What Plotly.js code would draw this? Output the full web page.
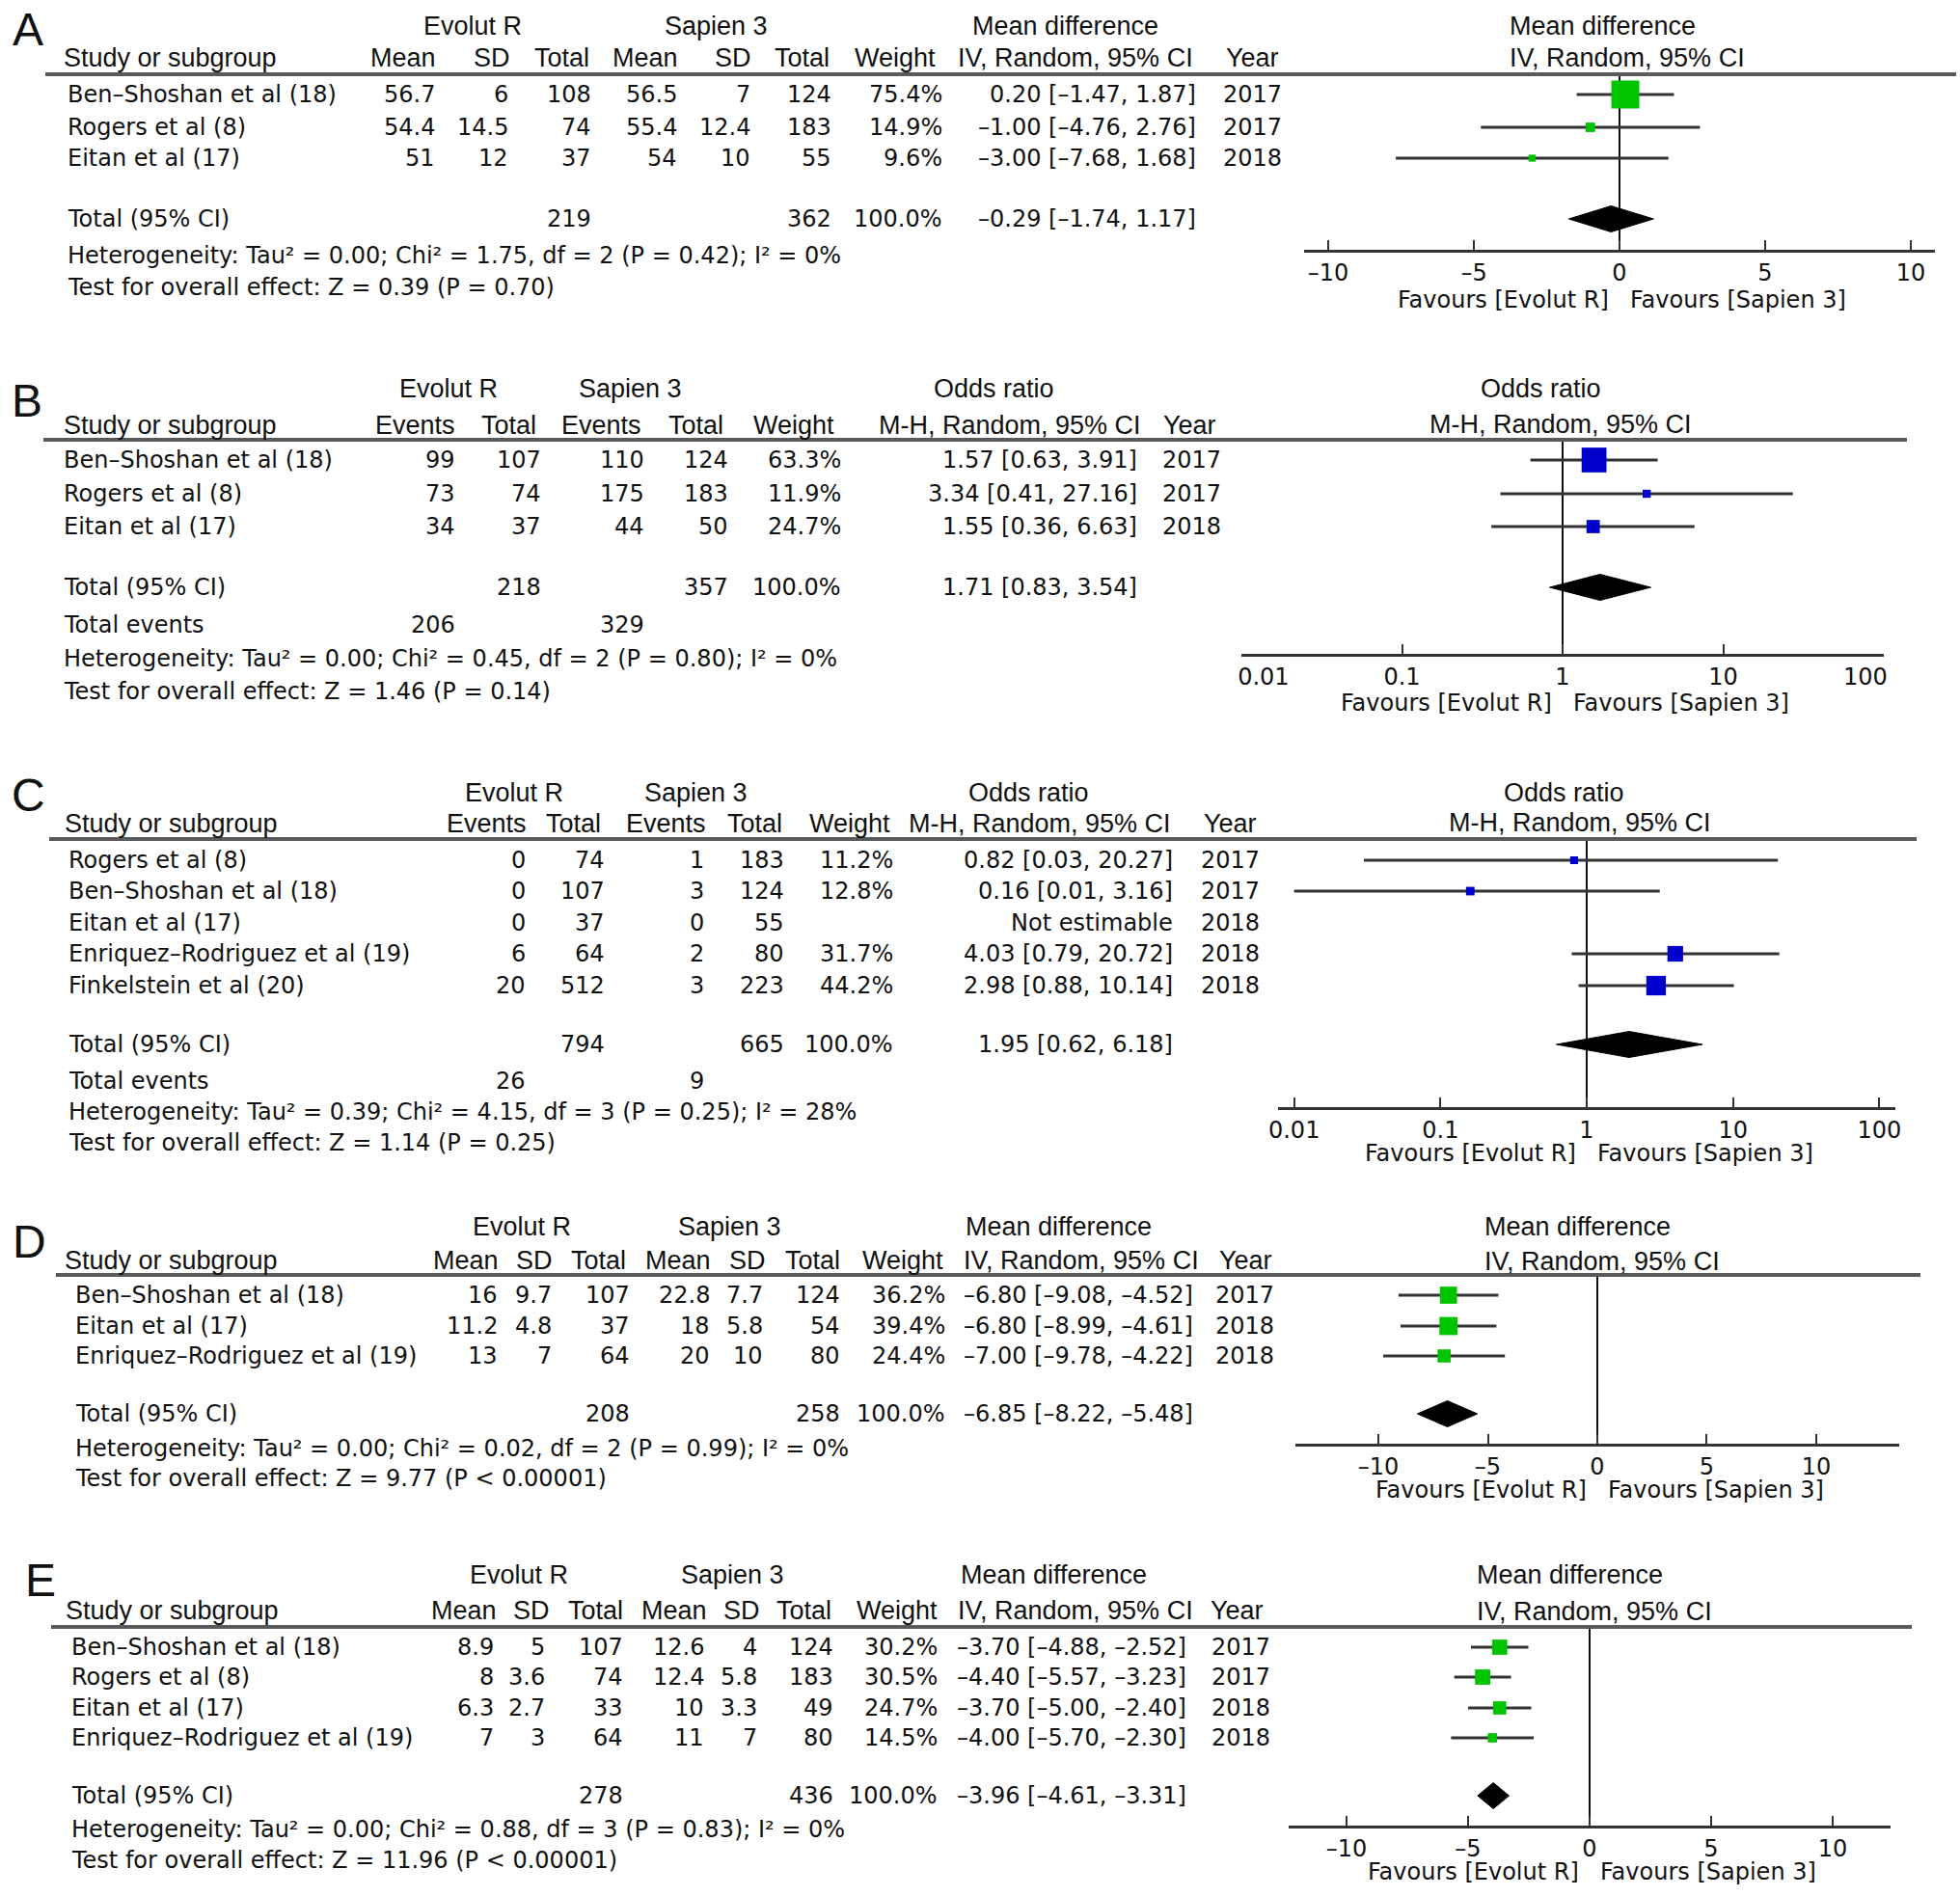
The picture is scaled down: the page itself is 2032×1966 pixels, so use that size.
<!DOCTYPE html>
<html><head><meta charset="utf-8">
<script src="https://cdn.plot.ly/plotly-3.0.1.min.js"></script>
<style>html,body{margin:0;padding:0;background:#fff}#chart{width:2032px;height:1966px}</style>
</head><body><div id="chart"></div>
<script>
// ---------------- DATA ----------------
const MD_ticks = [-10, -5, 0, 5, 10];
const OR_ticks = [0.01, 0.1, 1, 10, 100];
const OR_tickText = ['0.01', '0.1', '1', '10', '100'];
const groupLabels = ['Evolut R', 'Sapien 3'];
const favLeft = 'Favours [Evolut R]';
const favRight = 'Favours [Sapien 3]';

// Panel A (mean difference)
const A_studies = ['Ben–Shoshan et al (18)', 'Rogers et al (8)', 'Eitan et al (17)'];
const A_evMean = [56.7, 54.4, 51];
const A_evSD = [6, 14.5, 12];
const A_evTotal = [108, 74, 37];
const A_s3Mean = [56.5, 55.4, 54];
const A_s3SD = [7, 12.4, 10];
const A_s3Total = [124, 183, 55];
const A_weight = [75.4, 14.9, 9.6];
const A_est = [0.20, -1.00, -3.00];
const A_lo = [-1.47, -4.76, -7.68];
const A_hi = [1.87, 2.76, 1.68];
const A_year = [2017, 2017, 2018];
const A_totals = [219, 362];
const A_pooled = [-0.29, -1.74, 1.17];
const A_het = ['0.00', '1.75', '2', '= 0.42', '0'];
const A_test = ['0.39', '= 0.70'];

// Panel B (odds ratio)
const B_studies = ['Ben–Shoshan et al (18)', 'Rogers et al (8)', 'Eitan et al (17)'];
const B_evEvents = [99, 73, 34];
const B_evTotal = [107, 74, 37];
const B_s3Events = [110, 175, 44];
const B_s3Total = [124, 183, 50];
const B_weight = [63.3, 11.9, 24.7];
const B_est = [1.57, 3.34, 1.55];
const B_lo = [0.63, 0.41, 0.36];
const B_hi = [3.91, 27.16, 6.63];
const B_year = [2017, 2017, 2018];
const B_totals = [218, 357];
const B_events = [206, 329];
const B_pooled = [1.71, 0.83, 3.54];
const B_het = ['0.00', '0.45', '2', '= 0.80', '0'];
const B_test = ['1.46', '= 0.14'];

// Panel C (odds ratio)
const C_studies = ['Rogers et al (8)', 'Ben–Shoshan et al (18)', 'Eitan et al (17)', 'Enriquez–Rodriguez et al (19)', 'Finkelstein et al (20)'];
const C_evEvents = [0, 0, 0, 6, 20];
const C_evTotal = [74, 107, 37, 64, 512];
const C_s3Events = [1, 3, 0, 2, 3];
const C_s3Total = [183, 124, 55, 80, 223];
const C_weight = [11.2, 12.8, null, 31.7, 44.2];
const C_est = [0.82, 0.16, null, 4.03, 2.98];
const C_lo = [0.03, 0.01, null, 0.79, 0.88];
const C_hi = [20.27, 3.16, null, 20.72, 10.14];
const C_year = [2017, 2017, 2018, 2018, 2018];
const C_totals = [794, 665];
const C_events = [26, 9];
const C_pooled = [1.95, 0.62, 6.18];
const C_het = ['0.39', '4.15', '3', '= 0.25', '28'];
const C_test = ['1.14', '= 0.25'];

// Panel D (mean difference)
const D_studies = ['Ben–Shoshan et al (18)', 'Eitan et al (17)', 'Enriquez–Rodriguez et al (19)'];
const D_evMean = [16, 11.2, 13];
const D_evSD = [9.7, 4.8, 7];
const D_evTotal = [107, 37, 64];
const D_s3Mean = [22.8, 18, 20];
const D_s3SD = [7.7, 5.8, 10];
const D_s3Total = [124, 54, 80];
const D_weight = [36.2, 39.4, 24.4];
const D_est = [-6.80, -6.80, -7.00];
const D_lo = [-9.08, -8.99, -9.78];
const D_hi = [-4.52, -4.61, -4.22];
const D_year = [2017, 2018, 2018];
const D_totals = [208, 258];
const D_pooled = [-6.85, -8.22, -5.48];
const D_het = ['0.00', '0.02', '2', '= 0.99', '0'];
const D_test = ['9.77', '< 0.00001'];

// Panel E (mean difference)
const E_studies = ['Ben–Shoshan et al (18)', 'Rogers et al (8)', 'Eitan et al (17)', 'Enriquez–Rodriguez et al (19)'];
const E_evMean = [8.9, 8, 6.3, 7];
const E_evSD = [5, 3.6, 2.7, 3];
const E_evTotal = [107, 74, 33, 64];
const E_s3Mean = [12.6, 12.4, 10, 11];
const E_s3SD = [4, 5.8, 3.3, 7];
const E_s3Total = [124, 183, 49, 80];
const E_weight = [30.2, 30.5, 24.7, 14.5];
const E_est = [-3.70, -4.40, -3.70, -4.00];
const E_lo = [-4.88, -5.57, -5.00, -5.70];
const E_hi = [-2.52, -3.23, -2.40, -2.30];
const E_year = [2017, 2017, 2018, 2018];
const E_totals = [278, 436];
const E_pooled = [-3.96, -4.61, -3.31];
const E_het = ['0.00', '0.88', '3', '= 0.83', '0'];
const E_test = ['11.96', '< 0.00001'];

// ---------------- HELPERS ----------------
const W = 2032, H = 1966;
const BODY = 'DejaVu Sans, Verdana, sans-serif';
const HEAD = 'Liberation Sans, Arial, Helvetica, sans-serif';
const BODY_SIZE = 24, HEAD_SIZE = 27;
const TXT = '#111111';
const annotations = [], shapes = [], traces = [];
const layout = {
  width: W, height: H, margin: {l: 0, r: 0, t: 0, b: 0},
  paper_bgcolor: '#ffffff', plot_bgcolor: 'rgba(0,0,0,0)', showlegend: false,
  annotations, shapes
};

const dash = s => s.replace(/-/g, '–');
const fmtNum = v => dash(String(v));
const fmt2 = v => dash(v.toFixed(2));
const ciText = (e, l, h) => e == null ? 'Not estimable' : `${fmt2(e)} [${fmt2(l)}, ${fmt2(h)}]`;
const pct = w => w == null ? '' : w.toFixed(1) + '%';
const hetText = h => `Heterogeneity: Tau² = ${h[0]}; Chi² = ${h[1]}, df = ${h[2]} (P ${h[3]}); I² = ${h[4]}%`;
const testText = t => `Test for overall effect: Z = ${t[0]} (P ${t[1]})`;

function txt(x, y, text, anchor, family, size) {
  annotations.push({
    xref: 'paper', yref: 'paper', x: x / W, y: 1 - y / H, text: text,
    showarrow: false, xanchor: anchor, yanchor: 'middle', borderpad: 0,
    font: {family: family, size: size, color: TXT}
  });
}

function panel(k, P, D) {
  const sfx = k === 1 ? '' : String(k);
  const xa = 'x' + sfx, ya = 'y' + sfx;
  txt(P.letter[0], P.letter[1], P.label, 'center', HEAD, 48);
  txt(P.grpX[0], P.grpY, groupLabels[0], 'center', HEAD, HEAD_SIZE);
  txt(P.grpX[1], P.grpY, groupLabels[1], 'center', HEAD, HEAD_SIZE);
  txt(P.grpX[2], P.grpY, D.effect, 'center', HEAD, HEAD_SIZE);
  txt(P.studyHdrX, P.colY, 'Study or subgroup', 'left', HEAD, HEAD_SIZE);
  D.headers.forEach((h, i) => txt(P.hdrX[i], P.colY, h, 'center', HEAD, HEAD_SIZE));
  txt(P.hdrX[D.headers.length], P.colY, 'Year', 'center', HEAD, HEAD_SIZE);
  shapes.push({type: 'line', xref: 'paper', yref: 'paper',
    x0: P.lineX[0] / W, x1: P.lineX[1] / W, y0: 1 - P.lineY / H, y1: 1 - P.lineY / H,
    line: {color: '#5a5a5a', width: 4}});
  D.studies.forEach((s, i) => {
    const y = P.rows[i];
    txt(P.nameX, y, s, 'left', BODY, BODY_SIZE);
    D.cols.forEach((c, j) => { if (c[i] !== '') txt(P.colX[j], y, c[i], 'right', BODY, BODY_SIZE); });
    txt(P.yearX, y, String(D.year[i]), 'left', BODY, BODY_SIZE);
  });
  txt(P.nameX, P.totY, 'Total (95% CI)', 'left', BODY, BODY_SIZE);
  D.totals.forEach((t, j) => { if (t !== '') txt(P.colX[j], P.totY, t, 'right', BODY, BODY_SIZE); });
  if (D.events) {
    txt(P.nameX, P.evY, 'Total events', 'left', BODY, BODY_SIZE);
    D.events.forEach((t, j) => { if (t !== '') txt(P.colX[j], P.evY, t, 'right', BODY, BODY_SIZE); });
  }
  txt(P.nameX, P.hetY, hetText(D.het), 'left', BODY, BODY_SIZE);
  txt(P.nameX, P.testY, testText(D.test), 'left', BODY, BODY_SIZE);

  layout['xaxis' + sfx] = {
    domain: [P.xl / W, P.xr / W], range: P.range, type: D.log ? 'log' : 'linear',
    anchor: ya, tickmode: 'array', tickvals: D.tickvals, ticktext: P.ticktext || D.ticktext,
    ticks: 'inside', ticklen: 10, tickwidth: 2, tickcolor: '#333',
    showline: true, linewidth: 3, linecolor: '#333', mirror: false,
    showgrid: false, zeroline: false, ticklabelstandoff: 0,
    tickfont: {family: BODY, size: BODY_SIZE, color: TXT}, fixedrange: true
  };
  layout['yaxis' + sfx] = {
    domain: [1 - P.axisY / H, 1 - P.lineY / H], range: [P.axisY, P.lineY],
    anchor: xa, visible: false, showgrid: false, zeroline: false, fixedrange: true
  };
  txt(P.fHdrX[0], P.fHdrY[0], D.effect, P.fHdrAnchor, HEAD, HEAD_SIZE);
  txt(P.fHdrX[1], P.fHdrY[1], D.method, P.fHdrAnchor, HEAD, HEAD_SIZE);
  const nullPx = P.xl + (0 - P.range[0]) / (P.range[1] - P.range[0]) * (P.xr - P.xl);
  txt(nullPx - 10, P.favY, favLeft, 'right', BODY, BODY_SIZE);
  txt(nullPx + 10, P.favY, favRight, 'left', BODY, BODY_SIZE);

  traces.push({x: [D.nullVal, D.nullVal], y: [P.lineY, P.axisY], xaxis: xa, yaxis: ya,
    mode: 'lines', line: {color: '#111', width: 2}, hoverinfo: 'skip', cliponaxis: false});
  const cx = [], cy = [];
  D.est.forEach((e, i) => {
    if (e == null) return;
    cx.push(D.lo[i], D.hi[i], null); cy.push(P.rows[i], P.rows[i], null);
  });
  traces.push({x: cx, y: cy, xaxis: xa, yaxis: ya, mode: 'lines',
    line: {color: '#333', width: 3}, hoverinfo: 'skip', cliponaxis: false, connectgaps: false});
  const sx = [], sy = [], ss = [];
  D.est.forEach((e, i) => {
    if (e == null) return;
    sx.push(e); sy.push(P.rows[i]); ss.push(1.6 * Math.pow(D.weight[i], 0.67));
  });
  traces.push({x: sx, y: sy, xaxis: xa, yaxis: ya, mode: 'markers', opacity: 1,
    marker: {symbol: 'square', size: ss, color: D.color, opacity: 1, line: {width: 0}},
    hoverinfo: 'skip', cliponaxis: false});
  const pe = D.pooled, hh = 13.5, ty = P.totY;
  traces.push({x: [pe[1], pe[0], pe[2], pe[0], pe[1]], y: [ty, ty - hh, ty, ty + hh, ty],
    xaxis: xa, yaxis: ya, mode: 'lines', fill: 'toself', fillcolor: '#000',
    line: {color: '#000', width: 1}, hoverinfo: 'skip', cliponaxis: false});
}

const MD_headers = ['Mean', 'SD', 'Total', 'Mean', 'SD', 'Total', 'Weight', 'IV, Random, 95% CI'];
const OR_headers = ['Events', 'Total', 'Events', 'Total', 'Weight', 'M-H, Random, 95% CI'];
const mdTickText = MD_ticks.map(fmtNum);

function mdData(studies, em, esd, et, sm, ssd, st, w, est, lo, hi, yr, tot, pooled, het, test) {
  return {
    studies, year: yr, est, lo, hi, weight: w, pooled, het, test,
    effect: 'Mean difference', method: 'IV, Random, 95% CI', headers: MD_headers,
    cols: [em.map(fmtNum), esd.map(fmtNum), et.map(String), sm.map(fmtNum), ssd.map(fmtNum), st.map(String),
      w.map(pct), est.map((e, i) => ciText(e, lo[i], hi[i]))],
    totals: ['', '', String(tot[0]), '', '', String(tot[1]), '100.0%', ciText(pooled[0], pooled[1], pooled[2])],
    events: null, log: false, tickvals: MD_ticks, ticktext: mdTickText, nullVal: 0, color: '#00c400'
  };
}
function orData(studies, ee, et, se, st, w, est, lo, hi, yr, tot, ev, pooled, het, test) {
  return {
    studies, year: yr, est, lo, hi, weight: w, pooled, het, test,
    effect: 'Odds ratio', method: 'M-H, Random, 95% CI', headers: OR_headers,
    cols: [ee.map(String), et.map(String), se.map(String), st.map(String), w.map(pct),
      est.map((e, i) => ciText(e, lo[i], hi[i]))],
    totals: ['', String(tot[0]), '', String(tot[1]), '100.0%', ciText(pooled[0], pooled[1], pooled[2])],
    events: [String(ev[0]), '', String(ev[1]), '', '', ''],
    log: true, tickvals: OR_ticks, ticktext: OR_tickText, nullVal: 1, color: '#0000cc'
  };
}

// ---------------- LAYOUT (pixel positions) ----------------
const NB = '\u00a0';
const PA = {label: 'A', letter: [29, 31], grpY: 27, colY: 60, lineY: 77, lineX: [47, 2028],
  rows: [98, 132, 164], totY: 227, hetY: 265, testY: 298, nameX: 69, studyHdrX: 65,
  colX: [452, 528, 614, 703, 779, 863, 978, 1241], yearX: 1267,
  hdrX: [418, 510, 582, 669, 760, 831, 928, 1115, 1298], grpX: [490, 742, 1104],
  xl: 1352, xr: 2006, range: [-10.83, 10.83], axisY: 259,
  fHdrX: [1564, 1564], fHdrY: [27, 60], fHdrAnchor: 'left', favY: 311};
const PB = {label: 'B', letter: [28, 415], grpY: 403, colY: 441, lineY: 456, lineX: [45, 1977],
  rows: [477, 512, 546], totY: 609, evY: 648, hetY: 683, testY: 717, nameX: 65, studyHdrX: 65,
  colX: [473, 562, 669, 756, 873, 1180], yearX: 1204,
  hdrX: [430, 527, 623, 721, 823, 1047, 1233], grpX: [465, 653, 1030],
  xl: 1287, xr: 1953, range: [-2, 2], axisY: 678,
  ticktext: [NB.repeat(6) + '0.01', '0.1', '1', '10', '100' + NB.repeat(5)],
  fHdrX: [1597, 1618], fHdrY: [403, 440], fHdrAnchor: 'center', favY: 729};
const PC = {label: 'C', letter: [29, 824], grpY: 822, colY: 854, lineY: 870, lineX: [51, 1987],
  rows: [892, 924, 957, 989, 1022], totY: 1083, evY: 1121, hetY: 1153, testY: 1185, nameX: 70, studyHdrX: 66,
  colX: [546, 628, 731, 814, 927, 1217], yearX: 1244,
  hdrX: [504, 594, 690, 782, 881, 1078, 1275], grpX: [533, 721, 1066],
  xl: 1325, xr: 1965, range: [-2.11, 2.11], axisY: 1148,
  fHdrX: [1621, 1638], fHdrY: [822, 853], fHdrAnchor: 'center', favY: 1196};
const PD = {label: 'D', letter: [30, 1287], grpY: 1272, colY: 1307, lineY: 1322, lineX: [58, 1991],
  rows: [1343, 1375, 1406], totY: 1466, hetY: 1502, testY: 1533, nameX: 77, studyHdrX: 66,
  colX: [517, 573, 654, 737, 792, 872, 981, 1238], yearX: 1259,
  hdrX: [483, 554, 620, 703, 775, 842, 936, 1121, 1291], grpX: [541, 756, 1097],
  xl: 1343, xr: 1969, range: [-13.79, 13.79], axisY: 1497,
  fHdrX: [1538, 1538], fHdrY: [1272, 1308], fHdrAnchor: 'left', favY: 1545};
const PE = {label: 'E', letter: [42, 1638], grpY: 1633, colY: 1670, lineY: 1687, lineX: [53, 1982],
  rows: [1708, 1739, 1771, 1802], totY: 1862, hetY: 1897, testY: 1929, nameX: 73, studyHdrX: 67,
  colX: [513, 566, 647, 731, 786, 865, 973, 1231], yearX: 1255,
  hdrX: [481, 551, 617, 699, 769, 833, 930, 1115, 1282], grpX: [538, 759, 1092],
  xl: 1336, xr: 1960, range: [-12.38, 12.38], axisY: 1893,
  fHdrX: [1530, 1530], fHdrY: [1633, 1671], fHdrAnchor: 'left', favY: 1941};

panel(1, PA, mdData(A_studies, A_evMean, A_evSD, A_evTotal, A_s3Mean, A_s3SD, A_s3Total, A_weight,
  A_est, A_lo, A_hi, A_year, A_totals, A_pooled, A_het, A_test));
panel(2, PB, orData(B_studies, B_evEvents, B_evTotal, B_s3Events, B_s3Total, B_weight,
  B_est, B_lo, B_hi, B_year, B_totals, B_events, B_pooled, B_het, B_test));
panel(3, PC, orData(C_studies, C_evEvents, C_evTotal, C_s3Events, C_s3Total, C_weight,
  C_est, C_lo, C_hi, C_year, C_totals, C_events, C_pooled, C_het, C_test));
panel(4, PD, mdData(D_studies, D_evMean, D_evSD, D_evTotal, D_s3Mean, D_s3SD, D_s3Total, D_weight,
  D_est, D_lo, D_hi, D_year, D_totals, D_pooled, D_het, D_test));
panel(5, PE, mdData(E_studies, E_evMean, E_evSD, E_evTotal, E_s3Mean, E_s3SD, E_s3Total, E_weight,
  E_est, E_lo, E_hi, E_year, E_totals, E_pooled, E_het, E_test));

Plotly.newPlot('chart', traces, layout, {staticPlot: true, displayModeBar: false});
</script></body></html>
